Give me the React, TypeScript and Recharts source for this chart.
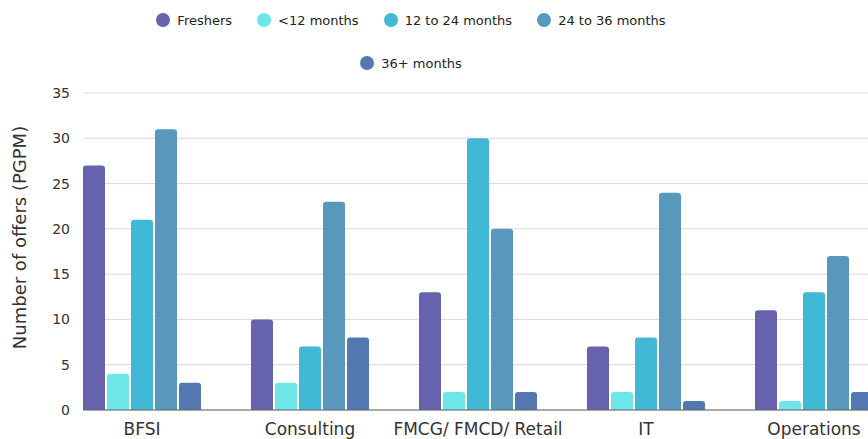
import React from 'react';
import { BarChart, Bar, XAxis, YAxis, CartesianGrid, Legend } from 'recharts';

const categories = ['BFSI', 'Consulting', 'FMCG/ FMCD/ Retail', 'IT', 'Operations'];
const freshers = [27, 10, 13, 7, 11];
const under12 = [4, 3, 2, 2, 1];
const m12to24 = [21, 7, 30, 8, 13];
const m24to36 = [31, 23, 20, 24, 17];
const m36plus = [3, 8, 2, 1, 2];
const yTicks = [0, 5, 10, 15, 20, 25, 30, 35];

const seriesKeys = ['freshers', 'under12', 'm12to24', 'm24to36', 'm36plus'];
const seriesNames = ['Freshers', '<12 months', '12 to 24 months', '24 to 36 months', '36+ months'];
const seriesColors = ['#6762AE', '#6CE6E8', '#41B8D6', '#5898BD', '#5277B1'];
const legendRows = [[0, 1, 2, 3], [4]];

const data = categories.map((category, i) => ({
  category,
  freshers: freshers[i],
  under12: under12[i],
  m12to24: m12to24[i],
  m24to36: m24to36[i],
  m36plus: m36plus[i],
}));

const FONT = '"DejaVu Sans", sans-serif';

const LegendContent = () => (
  <div style={{ width: 822, height: 93, position: 'relative', fontFamily: FONT, fontSize: 13, color: '#222' }}>
    {legendRows.map((row, r) => (
      <div
        key={r}
        style={{
          position: 'absolute',
          left: 0,
          width: 822,
          top: r === 0 ? 10 : 53,
          height: 20,
          display: 'flex',
          justifyContent: 'center',
          alignItems: 'center',
        }}
      >
        {row.map((idx, j) => (
          <div key={idx} style={{ display: 'flex', alignItems: 'center', marginLeft: j ? 25 : 0 }}>
            <span
              style={{
                display: 'inline-block',
                width: 14,
                height: 14,
                borderRadius: '50%',
                background: seriesColors[idx],
                marginRight: 7,
              }}
            />
            <span style={{ whiteSpace: 'nowrap' }}>{seriesNames[idx]}</span>
          </div>
        ))}
      </div>
    ))}
  </div>
);

const YLabel = (props: any) => {
  const vb = props.viewBox || {};
  const x = vb.x + 19.5;
  const y = vb.y + vb.height / 2 - 14;
  return (
    <text
      x={x}
      y={y}
      transform={`rotate(-90, ${x}, ${y})`}
      textAnchor="middle"
      dominantBaseline="central"
      fontFamily={FONT}
      fontSize={18}
      fill="#333"
    >
      Number of offers (PGPM)
    </text>
  );
};

export default function App() {
  return (
    <div style={{ position: 'fixed', left: 0, top: 0, width: 868, height: 439, overflow: 'hidden', background: '#fff' }}>
      <BarChart
        width={898}
        height={439}
        data={data}
        margin={{ top: 0, right: 0, bottom: 0, left: 0 }}
        barGap={2}
        style={{ fontFamily: FONT }}
      >
        <CartesianGrid vertical={false} stroke="#d9d9d9" />
        <Legend verticalAlign="top" content={<LegendContent />} />
        <XAxis
          dataKey="category"
          padding={{ left: -25, right: 0 }}
          tickLine={false}
          axisLine={{ stroke: '#666' }}
          tick={{ fontSize: 17, fill: '#333', fontFamily: FONT }}
          tickMargin={7}
          height={29}
          interval={0}
        />
        <YAxis
          width={83}
          domain={[0, 35]}
          ticks={yTicks}
          axisLine={false}
          tickLine={false}
          tickMargin={7}
          tick={{ fontSize: 14, fill: '#333', fontFamily: FONT }}
          label={<YLabel />}
        />
        {seriesKeys.map((k, i) => (
          <Bar
            key={k}
            dataKey={k}
            name={seriesNames[i]}
            fill={seriesColors[i]}
            barSize={22}
            radius={[3, 3, 0, 0]}
            isAnimationActive={false}
          />
        ))}
      </BarChart>
    </div>
  );
}
